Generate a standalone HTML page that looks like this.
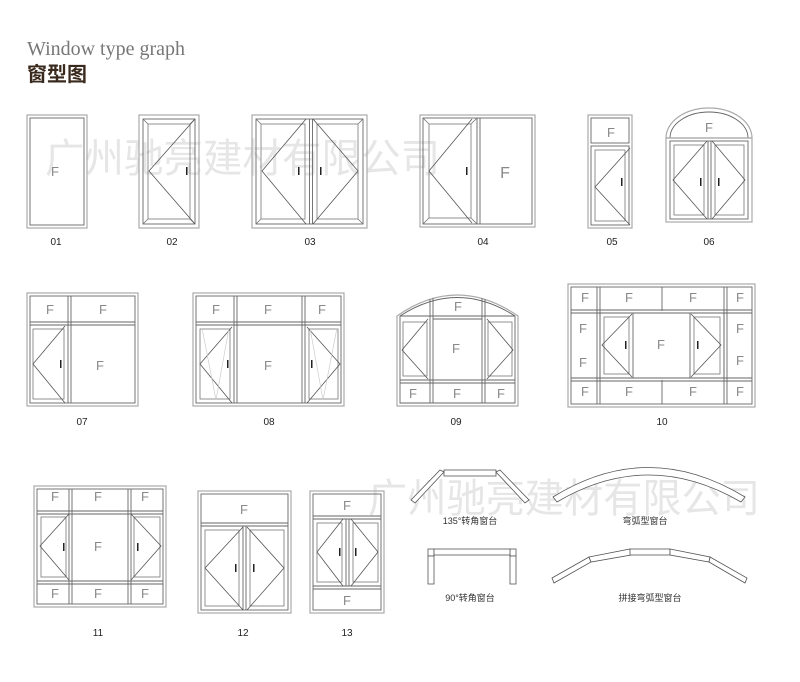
<!DOCTYPE html><html><head><meta charset="utf-8"><style>
html,body{margin:0;padding:0;background:#fff;width:800px;height:682px;overflow:hidden}
svg{display:block}
.o{fill:none;stroke:#aaa;stroke-width:1.2}
.i{fill:none;stroke:#666;stroke-width:.9}
.s{fill:none;stroke:#777;stroke-width:.8}
.d{stroke:#555;stroke-width:.8;fill:none}
.f{font-family:"Liberation Sans",sans-serif;font-size:13px;fill:#888;text-anchor:middle}
.h{font-family:"Liberation Sans",sans-serif;font-size:10px;fill:#222;text-anchor:middle}
.n{font-family:"Liberation Sans",sans-serif;font-size:10px;fill:#222;text-anchor:middle}
.w{font-family:"Liberation Sans","Noto Sans CJK SC",sans-serif;font-size:40px;fill:#e6e6e6}
.c{font-family:"Liberation Sans","Noto Sans CJK SC",sans-serif;font-size:9px;fill:#333;text-anchor:middle}
</style></head><body>
<svg width="800" height="682" viewBox="0 0 800 682" xmlns="http://www.w3.org/2000/svg">
<text x="45" y="172" class="w" textLength="395" lengthAdjust="spacingAndGlyphs">广州驰亮建材有限公司</text>
<text x="368" y="512" class="w" textLength="392" lengthAdjust="spacingAndGlyphs">广州驰亮建材有限公司</text>
<text x="27" y="55" style="font-family:'Liberation Serif',serif;font-size:20px;fill:#777" textLength="158" lengthAdjust="spacingAndGlyphs">Window type graph</text>
<text x="27" y="81" style="font-family:'Liberation Sans','Noto Sans CJK SC',sans-serif;font-size:20px;font-weight:bold;fill:#3a2a1e">窗型图</text>

<!-- 01 -->
<rect x="27" y="115" width="60" height="113" class="o"/><rect x="30" y="118" width="54" height="107" class="i"/>
<text x="55" y="176" class="f">F</text><text x="56" y="245" class="n">01</text>

<!-- 02 -->
<rect x="139" y="115" width="60" height="113" class="o"/><rect x="143" y="119" width="52" height="105" class="i"/>
<rect x="148" y="124" width="42" height="95" class="s"/>
<path d="M143 119L148 124M195 119L190 124M143 224L148 219M195 224L190 219" class="s"/>
<path d="M195 119L149 171L195 224" class="d"/><rect x="186" y="167" width="1.5" height="8" fill="#222"/>
<text x="172" y="245" class="n">02</text>

<!-- 03 -->
<rect x="252" y="115" width="115" height="113" class="o"/><rect x="256" y="119" width="107" height="105" class="i"/>
<line x1="309.5" y1="119" x2="309.5" y2="224" class="i"/><line x1="312.5" y1="119" x2="312.5" y2="224" class="i"/>
<rect x="261" y="124" width="44" height="95" class="s"/><rect x="317" y="124" width="41" height="95" class="s"/>
<path d="M256 119L261 124M256 224L261 219M363 119L358 124M363 224L358 219" class="s"/>
<path d="M306 119L262 171L306 224M313 119L358 171L313 224" class="d"/>
<rect x="298" y="167" width="1.5" height="8" fill="#222"/><rect x="320" y="167" width="1.5" height="8" fill="#222"/>
<text x="310" y="245" class="n">03</text>

<!-- 04 -->
<rect x="420" y="115" width="115" height="112" class="o"/><rect x="423" y="118" width="109" height="106" class="i"/>
<line x1="477" y1="118" x2="477" y2="224" class="i"/><line x1="480" y1="118" x2="480" y2="224" class="i"/>
<rect x="429" y="124" width="42" height="94" class="s"/>
<path d="M423 118L429 124M423 224L429 218M477 118L471 124M477 224L471 218" class="s"/>
<path d="M472 119L429 171L472 223" class="d"/><rect x="466" y="167" width="1.5" height="8" fill="#222"/>
<text x="505" y="178" class="f" style="font-size:16px">F</text>
<text x="483" y="245" class="n">04</text>

<!-- 05 -->
<rect x="588" y="115" width="44" height="113" class="o"/><rect x="591" y="118" width="38" height="25" class="i"/>
<rect x="591" y="146" width="38" height="79" class="i"/><rect x="595" y="150" width="30" height="71" class="s"/>
<path d="M630 148L595 187L630 225" class="d"/><rect x="621" y="178" width="1.5" height="8" fill="#222"/>
<text x="611" y="137" class="f">F</text><text x="612" y="245" class="n">05</text>

<!-- 06 -->
<path d="M666 138A43 30 0 0 1 752 138Z" class="o"/><path d="M670 138A39 26 0 0 1 748 138" class="i"/>
<rect x="666" y="138" width="86" height="84" class="o"/><rect x="670" y="141" width="78" height="78" class="i"/>
<line x1="708" y1="141" x2="708" y2="219" class="i"/><line x1="711" y1="141" x2="711" y2="219" class="i"/>
<rect x="674" y="145" width="30" height="70" class="s"/><rect x="715" y="145" width="29" height="70" class="s"/>
<path d="M707 141L673 180L707 219M712 141L745 180L712 219" class="d"/>
<rect x="700" y="178" width="1.5" height="8" fill="#222"/><rect x="718" y="178" width="1.5" height="8" fill="#222"/>
<text x="709" y="132" class="f">F</text><text x="709" y="245" class="n">06</text>

<!-- 07 -->
<rect x="27" y="293" width="111" height="113" class="o"/><rect x="30" y="296" width="105" height="107" class="i"/>
<line x1="68" y1="296" x2="68" y2="403" class="i"/><line x1="71" y1="296" x2="71" y2="403" class="i"/>
<line x1="30" y1="322" x2="135" y2="322" class="i"/><line x1="30" y1="325" x2="135" y2="325" class="i"/>
<rect x="33" y="329" width="31" height="70" class="s"/>
<path d="M65 326L33 364L65 403" class="d"/><rect x="60" y="360" width="1.5" height="8" fill="#222"/>
<text x="50" y="314" class="f">F</text><text x="103" y="314" class="f">F</text><text x="100" y="370" class="f">F</text>
<text x="82" y="425" class="n">07</text>

<!-- 08 -->
<rect x="193" y="293" width="151" height="113" class="o"/><rect x="196" y="296" width="145" height="107" class="i"/>
<line x1="234" y1="296" x2="234" y2="403" class="i"/><line x1="237" y1="296" x2="237" y2="403" class="i"/>
<line x1="302" y1="296" x2="302" y2="403" class="i"/><line x1="305" y1="296" x2="305" y2="403" class="i"/>
<line x1="196" y1="322" x2="341" y2="322" class="i"/><line x1="196" y1="325" x2="341" y2="325" class="i"/>
<rect x="200" y="329" width="30" height="70" class="s"/><rect x="309" y="329" width="29" height="70" class="s"/>
<path d="M232 327L200 364L232 403M307 327L340 364L307 403" class="d"/>
<path d="M202 328L216 400L229 328M310 328L323 400L337 328" stroke="#ccc" stroke-width=".7" fill="none"/>
<rect x="227" y="360" width="1.5" height="8" fill="#222"/><rect x="311" y="360" width="1.5" height="8" fill="#222"/>
<text x="216" y="314" class="f">F</text><text x="268" y="314" class="f">F</text><text x="322" y="314" class="f">F</text><text x="268" y="370" class="f">F</text>
<text x="269" y="425" class="n">08</text>

<!-- 09 -->
<path d="M397 316Q457 274 518 316L518 406L397 406Z" class="o"/><path d="M400 316Q457 279 515 316L515 403L400 403Z" class="i"/>
<line x1="400" y1="316" x2="515" y2="316" class="i"/>
<line x1="430" y1="299" x2="430" y2="403" class="i"/><line x1="433" y1="298" x2="433" y2="403" class="i"/>
<line x1="482" y1="298" x2="482" y2="403" class="i"/><line x1="485" y1="299" x2="485" y2="403" class="i"/>
<line x1="433" y1="319" x2="482" y2="319" class="i"/>
<line x1="400" y1="380" x2="515" y2="380" class="i"/><line x1="400" y1="383" x2="515" y2="383" class="i"/>
<rect x="403" y="322" width="24" height="54" class="s"/><rect x="488" y="322" width="24" height="54" class="s"/>
<path d="M428 319L402 350L428 379M487 319L513 350L487 379" class="d"/>
<text x="458" y="311" class="f">F</text><text x="456" y="353" class="f">F</text>
<text x="413" y="398" class="f">F</text><text x="457" y="398" class="f">F</text><text x="501" y="398" class="f">F</text>
<text x="456" y="425" class="n">09</text>

<!-- 10 -->
<rect x="568" y="284" width="187" height="123" class="o"/><rect x="571" y="287" width="181" height="117" class="i"/>
<line x1="597" y1="287" x2="597" y2="404" class="i"/><line x1="600" y1="287" x2="600" y2="404" class="i"/>
<line x1="724" y1="287" x2="724" y2="404" class="i"/><line x1="727" y1="287" x2="727" y2="404" class="i"/>
<line x1="662" y1="287" x2="662" y2="311" class="i"/><line x1="662" y1="380" x2="662" y2="404" class="i"/>
<line x1="571" y1="310" x2="752" y2="310" class="i"/><line x1="571" y1="313" x2="752" y2="313" class="i"/>
<line x1="571" y1="378" x2="752" y2="378" class="i"/><line x1="571" y1="381" x2="752" y2="381" class="i"/>
<rect x="600" y="313" width="33" height="65" class="i"/><rect x="604" y="317" width="25" height="57" class="s"/>
<rect x="690" y="313" width="34" height="65" class="i"/><rect x="694" y="317" width="26" height="57" class="s"/>
<path d="M632 314L602 345L632 377M691 314L721 345L691 377" class="d"/>
<rect x="625" y="341" width="1.5" height="8" fill="#222"/><rect x="697" y="341" width="1.5" height="8" fill="#222"/>
<text x="585" y="302" class="f">F</text><text x="629" y="302" class="f">F</text><text x="693" y="302" class="f">F</text><text x="740" y="302" class="f">F</text>
<text x="583" y="333" class="f">F</text><text x="583" y="367" class="f">F</text><text x="740" y="333" class="f">F</text><text x="740" y="365" class="f">F</text>
<text x="661" y="349" class="f">F</text>
<text x="585" y="396" class="f">F</text><text x="629" y="396" class="f">F</text><text x="693" y="396" class="f">F</text><text x="740" y="396" class="f">F</text>
<text x="662" y="425" class="n">10</text>

<!-- 11 -->
<rect x="34" y="486" width="132" height="121" class="o"/><rect x="37" y="489" width="126" height="115" class="i"/>
<line x1="69" y1="489" x2="69" y2="604" class="i"/><line x1="72" y1="489" x2="72" y2="604" class="i"/>
<line x1="128" y1="489" x2="128" y2="604" class="i"/><line x1="131" y1="489" x2="131" y2="604" class="i"/>
<line x1="37" y1="511" x2="163" y2="511" class="i"/><line x1="37" y1="514" x2="163" y2="514" class="i"/>
<line x1="37" y1="581" x2="163" y2="581" class="i"/><line x1="37" y1="584" x2="163" y2="584" class="i"/>
<rect x="41" y="517" width="25" height="60" class="s"/><rect x="134" y="517" width="26" height="60" class="s"/>
<path d="M69 514L40 546L69 580M131 514L161 546L131 580" class="d"/>
<rect x="63" y="543" width="1.5" height="8" fill="#222"/><rect x="137" y="543" width="1.5" height="8" fill="#222"/>
<text x="55" y="501" class="f">F</text><text x="98" y="501" class="f">F</text><text x="145" y="501" class="f">F</text><text x="98" y="551" class="f">F</text>
<text x="55" y="598" class="f">F</text><text x="98" y="598" class="f">F</text><text x="145" y="598" class="f">F</text>
<text x="98" y="636" class="n">11</text>

<!-- 12 -->
<rect x="198" y="491" width="93" height="122" class="o"/><rect x="201" y="494" width="87" height="116" class="i"/>
<line x1="201" y1="523" x2="288" y2="523" class="i"/><line x1="201" y1="526" x2="288" y2="526" class="i"/>
<line x1="243" y1="526" x2="243" y2="610" class="i"/><line x1="246" y1="526" x2="246" y2="610" class="i"/>
<rect x="205" y="530" width="34" height="76" class="s"/><rect x="250" y="530" width="34" height="76" class="s"/>
<path d="M243 527L205 568L243 610M247 527L284 568L247 610" class="d"/>
<rect x="235" y="564" width="1.5" height="8" fill="#222"/><rect x="253" y="564" width="1.5" height="8" fill="#222"/>
<text x="244" y="514" class="f">F</text><text x="243" y="636" class="n">12</text>

<!-- 13 -->
<rect x="310" y="491" width="74" height="122" class="o"/><rect x="313" y="494" width="68" height="116" class="i"/>
<line x1="313" y1="516" x2="381" y2="516" class="i"/><line x1="313" y1="519" x2="381" y2="519" class="i"/>
<line x1="313" y1="586" x2="381" y2="586" class="i"/><line x1="313" y1="589" x2="381" y2="589" class="i"/>
<line x1="346" y1="519" x2="346" y2="586" class="i"/><line x1="349" y1="519" x2="349" y2="586" class="i"/>
<rect x="317" y="523" width="25" height="59" class="s"/><rect x="353" y="523" width="25" height="59" class="s"/>
<path d="M343 519L317 552L343 586M351 519L378 552L351 586" class="d"/>
<rect x="339" y="548" width="1.5" height="8" fill="#222"/><rect x="355" y="548" width="1.5" height="8" fill="#222"/>
<text x="347" y="510" class="f">F</text><text x="347" y="605" class="f">F</text>
<text x="347" y="636" class="n">13</text>

<!-- corner sills -->
<g fill="#fff" stroke="#555" stroke-width=".8">
<rect x="444" y="470" width="52" height="6"/>
<polygon points="444,472 440,470 411,500 415,503"/>
<polygon points="496,472 500,470 529,500 525,503"/>
<path d="M553 497Q648 438 745 497L741 502Q648 448 557 502Z"/>
<rect x="428" y="549" width="6" height="7"/><rect x="510" y="549" width="6" height="7"/>
<rect x="434" y="549" width="76" height="6"/>
<rect x="428" y="556" width="6" height="28"/><rect x="510" y="556" width="6" height="28"/>
<polygon points="552,578 589,557 591,562 554,583"/>
<polygon points="589,557 630,549 631,555 591,562"/>
<rect x="630" y="549" width="40" height="6"/>
<polygon points="670,549 710,557 709,562 670,555"/>
<polygon points="710,557 747,578 745,583 709,562"/>
</g>
<text x="470" y="524" class="c">135°转角窗台</text>
<text x="645" y="524" class="c">弯弧型窗台</text>
<text x="470" y="601" class="c">90°转角窗台</text>
<text x="650" y="601" class="c">拼接弯弧型窗台</text>
</svg>
</body></html>
